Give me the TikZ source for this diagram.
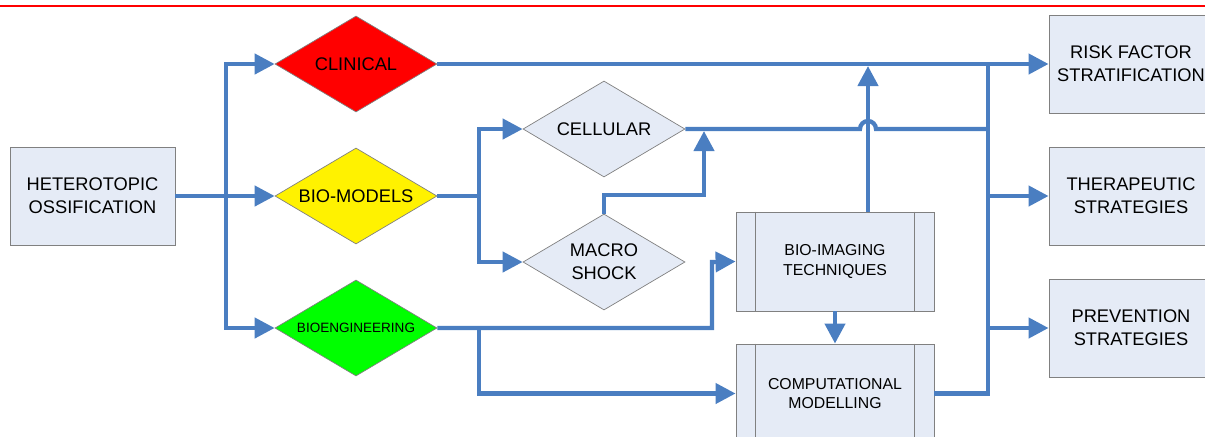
\documentclass[tikz,border=0pt]{standalone}
\usepackage{fontspec}
\setmainfont{Liberation Sans}
\usetikzlibrary{shapes.geometric,arrows.meta}
\definecolor{flow}{RGB}{74,126,193}
\definecolor{pale}{RGB}{229,235,246}
\definecolor{edge}{RGB}{128,128,128}

\begin{document}
\begin{tikzpicture}[x=0.2mm, y=-0.2mm,
  block/.style={draw=edge, fill=pale, line width=0.5pt, align=center, inner sep=0pt,
    minimum width=33mm, minimum height=19.6mm, font=\fontsize{10.4}{13}\selectfont},
  choice/.style={diamond, draw=edge, line width=0.4pt, fill=pale, aspect=1.7, inner sep=0pt,
    minimum width=32.4mm, minimum height=19.2mm, align=center, font=\fontsize{10.4}{13}\selectfont},
  proc/.style={block, minimum width=39.6mm, minimum height=19.8mm, font=\fontsize{9}{11}\selectfont},
  wire/.style={draw=flow, line width=0.85mm},
  link/.style={wire, -{Triangle[length=4mm, width=4mm]}}]
\clip (0,0) rectangle (1205,436);
\draw[red, line width=0.45mm] (0,6) -- (1205,6);

\node[block] (ho) at (92.5,196) {HETEROTOPIC\\OSSIFICATION};
\node[choice, fill=red] (clin) at (356,64) {CLINICAL};
\node[choice, fill=yellow] (biom) at (356,196) {BIO-MODELS};
\node[choice, fill=green, font=\fontsize{7.7}{9}\selectfont] (bioe) at (356,328) {BIOENGINEERING};
\node[choice] (cell) at (604,129) {CELLULAR};
\node[choice] (macro) at (604,262) {MACRO\\SHOCK};
\node[proc] (img) at (835,261.5) {BIO-IMAGING\\TECHNIQUES};
\node[proc] (comp) at (835,393.5) {COMPUTATIONAL\\MODELLING};
\node[block, minimum width=32.8mm] (risk) at (1131,64) {RISK FACTOR\\STRATIFICATION};
\node[block, minimum width=32.8mm] (ther) at (1131,196) {THERAPEUTIC\\STRATEGIES};
\node[block, minimum width=32.8mm] (prev) at (1131,328) {PREVENTION\\STRATEGIES};
\foreach \n in {img,comp}
  \draw[edge, line width=0.5pt]
       ([xshift=4mm]\n.north west) -- ([xshift=4mm]\n.south west)
       ([xshift=-4mm]\n.north east) -- ([xshift=-4mm]\n.south east);

%%%%%%%%%%%%%%%%%%%%%%%%%%%%%%%%%%%%%%%%

\coordinate (s1) at (226,196);
\coordinate (s2) at (479,196);
\coordinate (s3) at (712,262);
\coordinate (mj) at (704,129);
\coordinate (hop) at (868,129);
\coordinate (bus) at (988,64);

\draw[link] (ho.east) -- (biom.west);
\draw[link] (s1) |- (clin.west);
\draw[link] (s1) |- (bioe.west);
\draw[wire] (biom.east) -- (s2);
\draw[link] (s2) |- (cell.west);
\draw[link] (s2) |- (macro.west);
\draw[link] (clin.east) -- (risk.west);
\draw[wire] (cell.east) -- ([xshift=-1.6mm]hop)
  arc[start angle=180, end angle=360, radius=8] -- (hop -| bus);
\draw[wire] (comp.east) -| (bus);
\draw[link] (bus |- ther.west) -- (ther.west);
\draw[link] (bus |- prev.west) -- (prev.west);
\draw[link, shorten >=0.4mm] (macro.north) -- ++(0,-19) -| (mj);
\draw[link, shorten >=0.4mm] (img.north -| hop) -- (hop |- clin.east);
\draw[link] (img.south) -- (comp.north);
\draw[link] (bioe.east) -| (s3) -- (img.west);
\draw[link] (bioe.east -| s2) |- (comp.west);

\end{tikzpicture}
\end{document}
